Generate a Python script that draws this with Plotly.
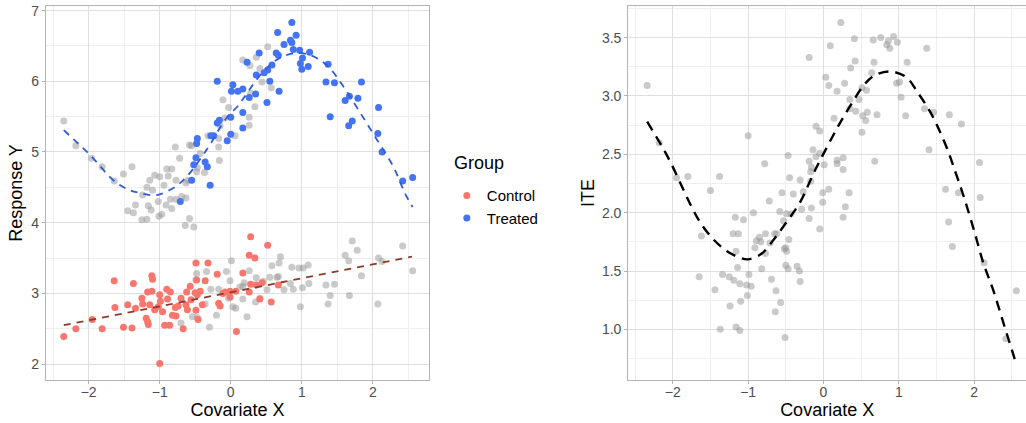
import plotly.graph_objects as go

# ---------------- Left panel data ----------------
control_x = [-2.35, -2.18, -1.95, -1.81, -1.64, -1.63, -1.51, -1.45, -1.39, -1.37,
             -1.34, -1.25, -1.24, -1.19, -1.17, -1.16, -1.11, -1.10, -1.17, -1.11,
             -1.14, -1.07, -1.02, -1.00, -0.99, -0.96, -0.93, -0.86, -0.89, -0.90,
             -0.85, -1.00, -0.82, -0.77, -0.78, -0.74, -0.70, -0.67, -0.62, -0.57,
             -0.63, -0.61, -0.56, -0.49, -0.50, -0.47, -0.43, -0.49, -0.46, -0.48,
             -0.40, -0.36, -0.32, -0.19, -0.17, -0.15, -0.11, -0.08, -0.01, 0.07,
             0.08, 0.17, 0.26, 0.34, 0.28, 0.52, 0.28, 0.36, 0.44, 0.26,
             -0.01, 0.41, 0.57, 0.67]
control_y = [2.39, 2.50, 2.63, 2.50, 3.18, 2.80, 2.52, 2.84, 2.51, 3.14,
             2.79, 2.93, 2.85, 2.65, 2.60, 2.56, 3.25, 3.20, 3.02, 3.03,
             2.84, 2.77, 2.81, 2.98, 2.89, 2.74, 2.55, 2.55, 2.92, 3.06,
             3.02, 2.01, 2.69, 2.68, 2.80, 2.82, 2.93, 2.50, 3.02, 3.10,
             2.84, 2.77, 2.91, 3.43, 3.01, 2.98, 3.03, 2.76, 2.63, 3.19,
             2.84, 3.18, 3.43, 3.27, 2.86, 2.82, 3.00, 3.02, 3.03, 3.03,
             2.46, 3.29, 3.54, 3.50, 3.80, 3.68, 3.13, 3.12, 3.15, 3.02,
             2.95, 2.92, 2.88, 3.12]

treated_x = [-0.71, -0.55, -0.52, -0.49, -0.47, -0.48, -0.36, -0.33, -0.29, -0.28,
             -0.24, -0.19, -0.16, -0.19, -0.05, 0.00, 0.00, 0.17, 0.17, 0.01,
             0.10, 0.17, 0.03, 0.26, 0.35, 0.51, 0.68, 0.55, 0.36, 0.47,
             0.52, 0.58, 0.23, 0.40, 0.64, 0.67, 0.75, 0.84, 0.86, 0.88,
             0.97, 0.66, 0.92, 0.86, 1.11, 1.01, 0.98, 1.00, 1.09, 1.37,
             1.34, 1.46, 1.84, 1.67, 1.61, 1.79, 1.40, 1.71, 1.66, 2.08,
             2.07, 2.13, 2.42, 2.56]
treated_y = [4.30, 4.60, 4.82, 4.92, 5.19, 5.12, 4.86, 4.79, 4.53, 5.23,
             5.23, 5.41, 5.45, 6.00, 5.16, 5.25, 5.49, 5.34, 5.56, 5.86,
             5.86, 5.89, 5.95, 5.77, 5.82, 5.70, 5.86, 6.00, 6.09, 6.12,
             6.16, 6.23, 6.27, 6.40, 6.40, 6.37, 6.52, 6.58, 6.55, 6.45,
             6.44, 6.69, 6.65, 6.83, 6.41, 6.33, 6.25, 6.17, 6.21, 6.24,
             5.99, 5.98, 5.99, 5.79, 5.73, 5.76, 5.50, 5.44, 5.37, 5.63,
             5.26, 5.00, 4.59, 4.64]

# counterfactual outcomes (grey)
cf_treat_x = [-2.35, -2.18, -1.96, -1.81, -1.64, -1.51, -1.39, -1.45, -1.37, -1.34,
              -1.25, -1.24, -1.18, -1.18, -1.16, -1.14, -1.12, -1.10, -1.07, -1.02,
              -1.01, -1.00, -0.97, -0.94, -0.91, -0.90, -0.88, -0.85, -0.83, -0.83,
              -0.78, -0.77, -0.77, -0.72, -0.69, -0.64, -0.63, -0.63, -0.60, -0.58,
              -0.58, -0.55, -0.52, -0.48, -0.47, -0.43, -0.37, -0.32, -0.17, -0.16,
              -0.15, -0.17, -0.11, -0.08, -0.03, 0.06, 0.17, 0.36, 0.52, 0.41,
              0.44, 0.57, 0.28, 0.34, 0.26, 0.26, 0.27]
cf_treat_y = [5.44, 5.09, 4.91, 4.79, 4.59, 4.69, 4.79, 4.17, 4.14, 4.25,
              4.04, 4.39, 4.05, 4.50, 4.24, 4.60, 4.18, 4.46, 4.67, 4.30,
              4.09, 4.65, 4.12, 4.53, 4.25, 4.76, 4.66, 4.33, 4.76, 4.20,
              5.07, 4.60, 4.33, 4.91, 4.37, 3.96, 4.35, 4.56, 4.60, 5.10,
              4.06, 5.09, 3.94, 4.72, 4.78, 4.98, 4.71, 5.23, 5.07, 4.88,
              5.37, 5.19, 5.74, 5.48, 5.63, 5.23, 6.30, 6.34, 6.49, 6.18,
              5.99, 5.91, 5.83, 5.64, 5.49, 5.38, 6.22]

cf_control_x = [-0.70, -0.54, -0.47, -0.48, -0.49, -0.34, -0.36, -0.30, -0.28, -0.20,
                -0.17, -0.06, -0.03, -0.01, 0.01, 0.03, 0.07, 0.13, 0.17, 0.17,
                0.19, 0.23, 0.26, 0.36, 0.35, 0.41, 0.46, 0.51, 0.55, 0.65,
                0.67, 0.58, 0.68, 0.70, 0.75, 0.84, 0.88, 0.86, 0.96, 1.02,
                1.09, 1.01, 1.10, 0.98, 1.34, 1.40, 1.37, 1.46, 1.61, 1.66,
                1.71, 1.78, 1.67, 1.84, 2.08, 2.13, 2.07, 2.42, 2.56]
cf_control_y = [2.58, 2.67, 2.66, 3.28, 3.19, 3.31, 2.85, 2.52, 3.06, 2.69,
                3.06, 3.31, 2.93, 3.18, 3.46, 2.81, 2.79, 3.09, 3.10, 2.92,
                3.15, 2.67, 3.32, 3.22, 2.88, 2.93, 3.17, 3.05, 3.23, 3.23,
                3.24, 3.39, 3.43, 3.52, 3.05, 3.14, 3.06, 3.37, 3.36, 3.36,
                3.40, 3.08, 3.14, 2.81, 3.12, 2.97, 2.85, 3.13, 3.54, 3.46,
                3.74, 3.61, 2.97, 3.25, 3.50, 3.45, 2.85, 3.67, 3.32]

# fitted curves
fit_treat_x = [-2.35, -2.18, -1.98, -1.63, -1.42, -1.28, -1.12, -1.00, -0.78, -0.62,
               -0.34, -0.06, 0.11, 0.18, 0.46, 0.69, 0.91, 1.12, 1.35, 1.59,
               1.80, 2.06, 2.29, 2.45, 2.56]
fit_treat_y = [5.31, 5.15, 4.96, 4.58, 4.46, 4.42, 4.39, 4.40, 4.51, 4.65,
               5.03, 5.48, 5.66, 5.76, 6.14, 6.33, 6.40, 6.37, 6.23, 5.92,
               5.59, 5.17, 4.79, 4.42, 4.22]
fit_control_x = [-2.35, 2.55]
fit_control_y = [2.55, 3.52]

# ---------------- Right panel data ----------------
ite_x = [-2.34, -2.18, -1.95, -1.80, -1.38, -1.50, -1.00, -0.78, -0.72, -0.55,
         -0.47, -0.45, -0.40, -0.31, -0.27, -0.19, -0.19, -0.17, -0.16, -0.17,
         -0.10, -0.14, -0.10, -0.05, -0.05, 0.23, 0.09, 0.41, 0.66, 0.76,
         0.86, 0.84, 0.88, 0.93, 0.98, 1.37, 0.42, 0.36, 0.67, 1.11,
         0.03, 0.07, 0.18, 0.28, 0.64, 0.97, 1.01, 0.51, 0.57, 1.03,
         0.35, 0.35, 0.47, 0.43, 0.52, 0.56, 0.58, 0.71, 0.14, 1.09,
         1.34, 1.46, 1.67, 1.83, 0.51, 1.40, 0.01, 0.18, 0.18, 0.26,
         0.26, 0.68, 2.07, -0.01, 0.07, 0.34, 1.62, 1.79, 2.08, -0.01,
         0.29, 0.26, -0.05, 1.66, 1.71, 2.13, 2.56, 2.42, -1.62, -1.65,
         -1.44, -1.34, -1.37, -1.24, -1.25, -1.19, -1.17, -1.06, -1.20, -1.13,
         -1.16, -1.14, -1.11, -1.10, -1.16, -1.11, -1.02, -0.96, -1.01, -0.99,
         -0.93, -0.89, -0.85, -0.91, -0.77, -0.83, -0.77, -0.82, -0.69, -0.65,
         -0.62, -0.71, -0.63, -0.64, -0.57, -0.58, -0.53, -0.49, -0.43, -0.52,
         -0.49, -0.50, -0.46, -0.50, -0.47, -0.35, -0.32, -0.31, -0.51, -0.29,
         -0.16, -0.19]
ite_y = [3.09, 2.60, 2.30, 2.31, 2.31, 2.19, 2.66, 2.42, 2.10, 2.17,
         2.49, 2.30, 2.16, 2.28, 2.18, 3.33, 2.44, 2.35, 2.39, 2.27,
         2.74, 2.54, 2.48, 2.51, 2.70, 3.63, 3.43, 3.49, 3.48, 3.50,
         3.47, 3.44, 3.41, 3.51, 3.46, 3.41, 3.30, 3.24, 3.29, 3.29,
         3.16, 3.09, 3.04, 3.11, 3.20, 3.11, 3.12, 3.07, 3.05, 2.99,
         2.97, 2.89, 2.97, 2.87, 2.83, 2.79, 2.86, 2.84, 2.81, 2.83,
         2.89, 2.86, 2.84, 2.76, 2.69, 2.54, 2.41, 2.45, 2.42, 2.47,
         2.37, 2.44, 2.43, 2.17, 2.20, 2.17, 2.20, 2.17, 2.13, 2.09,
         2.05, 1.96, 1.86, 1.92, 1.71, 1.57, 1.33, 0.92, 1.80, 1.45,
         1.34, 1.47, 1.00, 1.20, 1.45, 1.42, 1.96, 1.94, 1.82, 1.82,
         1.67, 1.53, 1.39, 1.24, 1.02, 0.99, 1.38, 1.37, 1.29, 1.47,
         2.00, 1.76, 1.79, 1.70, 1.82, 1.75, 1.65, 1.52, 1.43, 1.82,
         1.82, 1.74, 1.33, 1.15, 1.23, 2.01, 1.93, 1.99, 1.99, 1.69,
         1.67, 1.70, 1.77, 1.55, 1.52, 1.54, 1.50, 1.41, 0.93, 2.03,
         2.04, 1.95]

fit_ite_x = [-2.34, -2.06, -1.84, -1.75, -1.64, -1.46, -1.28, -1.13, -1.00, -0.82,
             -0.66, -0.49, -0.31, -0.13, -0.02, 0.11, 0.22, 0.35, 0.51, 0.66,
             0.88, 1.10, 1.26, 1.41, 1.52, 1.64, 1.75, 1.86, 2.01, 2.12,
             2.25, 2.39, 2.55]
fit_ite_y = [2.78, 2.47, 2.17, 2.05, 1.92, 1.77, 1.67, 1.62, 1.60, 1.65,
             1.77, 1.92, 2.09, 2.34, 2.48, 2.64, 2.77, 2.91, 3.07, 3.17,
             3.21, 3.16, 3.02, 2.87, 2.73, 2.55, 2.35, 2.14, 1.82, 1.57,
             1.34, 1.05, 0.72]

for a, b in [(control_x, control_y), (treated_x, treated_y), (cf_treat_x, cf_treat_y),
             (cf_control_x, cf_control_y), (ite_x, ite_y), (fit_treat_x, fit_treat_y),
             (fit_ite_x, fit_ite_y)]:
    assert len(a) == len(b), (len(a), len(b))

RED = "#F8766D"
BLUE = "#4574F2"
GREY = "rgba(150,150,150,0.5)"
FONT = "Liberation Sans, Arial, sans-serif"

fig = go.Figure()

# left panel: grey counterfactuals
fig.add_trace(go.Scatter(x=cf_treat_x, y=cf_treat_y, mode="markers",
                         marker=dict(color=GREY, size=7, line=dict(width=0)),
                         showlegend=False, xaxis="x", yaxis="y"))
fig.add_trace(go.Scatter(x=cf_control_x, y=cf_control_y, mode="markers",
                         marker=dict(color=GREY, size=7, line=dict(width=0)),
                         showlegend=False, xaxis="x", yaxis="y"))
# observed
fig.add_trace(go.Scatter(x=control_x, y=control_y, mode="markers", name="Control",
                         marker=dict(color=RED, size=7, line=dict(width=0)),
                         xaxis="x", yaxis="y"))
fig.add_trace(go.Scatter(x=treated_x, y=treated_y, mode="markers", name="Treated",
                         marker=dict(color=BLUE, size=7, line=dict(width=0)),
                         xaxis="x", yaxis="y"))
# fitted lines
fig.add_trace(go.Scatter(x=fit_treat_x, y=fit_treat_y, mode="lines",
                         line=dict(color="#2F5CD6", width=1.8, dash="7px,6px", shape="spline"),
                         showlegend=False, xaxis="x", yaxis="y"))
fig.add_trace(go.Scatter(x=fit_control_x, y=fit_control_y, mode="lines",
                         line=dict(color="#8B3A2B", width=1.8, dash="7px,6px"),
                         showlegend=False, xaxis="x", yaxis="y"))

# right panel
fig.add_trace(go.Scatter(x=ite_x, y=ite_y, mode="markers",
                         marker=dict(color=GREY, size=7, line=dict(width=0)),
                         showlegend=False, xaxis="x2", yaxis="y2"))
fig.add_trace(go.Scatter(x=fit_ite_x, y=fit_ite_y, mode="lines",
                         line=dict(color="black", width=2.4, dash="10px,7px", shape="spline"),
                         showlegend=False, xaxis="x2", yaxis="y2"))

axis_common = dict(
    showline=True, mirror=True, linecolor="#B3B3B3", linewidth=1.2,
    ticks="outside", ticklen=3, tickcolor="#B3B3B3", tickwidth=1,
    showgrid=True, gridcolor="#DEDEDE", gridwidth=1, zeroline=False,
    tickfont=dict(family=FONT, size=14, color="#4D4D4D"),
)
minor = dict(dtick=0.5, showgrid=True, gridcolor="#EFEFEF", gridwidth=0.7, ticklen=0)

fig.update_layout(
    width=1026, height=423,
    margin=dict(l=46, r=0, t=6, b=43, autoexpand=False),
    paper_bgcolor="white", plot_bgcolor="white",
    font=dict(family=FONT, color="black"),
    xaxis=dict(domain=[0, 0.3908], range=[-2.60, 2.79], tickvals=[-2, -1, 0, 1, 2],
               ticklabelstandoff=-4,
               title=dict(text="Covariate X", font=dict(size=18), standoff=2),
               minor=dict(minor, tick0=0), anchor="y", **axis_common),
    yaxis=dict(domain=[0, 1], range=[1.775, 7.065], tickvals=[2, 3, 4, 5, 6, 7],
               title=dict(text="Response Y", font=dict(size=18), standoff=4),
               minor=dict(minor, tick0=0), anchor="x", **axis_common),
    xaxis2=dict(domain=[0.5942, 1.0], range=[-2.59, 2.687], tickvals=[-2, -1, 0, 1, 2],
                ticklabelstandoff=-4,
                title=dict(text="Covariate X", font=dict(size=18), standoff=2),
                minor=dict(minor, tick0=0), anchor="y2", **axis_common),
    yaxis2=dict(domain=[0, 1], range=[0.566, 3.771],
                tickvals=[1.0, 1.5, 2.0, 2.5, 3.0, 3.5], tickformat=".1f",
                title=dict(text="ITE", font=dict(size=18), standoff=2),
                minor=dict(dtick=0.25, tick0=0, showgrid=True, gridcolor="#EFEFEF",
                           gridwidth=0.7, ticklen=0),
                anchor="x2", **axis_common),
    legend=dict(font=dict(size=15), x=0.409, y=0.537, xanchor="left", yanchor="top",
                bgcolor="rgba(0,0,0,0)", tracegroupgap=0),
    annotations=[dict(text="Group", xref="paper", yref="paper",
                      x=(452 - 46) / 980, y=1 - (163 - 6) / 374,
                      xanchor="left", yanchor="middle", showarrow=False,
                      font=dict(size=18, color="black"))],
)

fig.write_html("out.html", config={"displayModeBar": False},
               post_script="document.body.style.margin='0';document.body.style.overflow='hidden';")
